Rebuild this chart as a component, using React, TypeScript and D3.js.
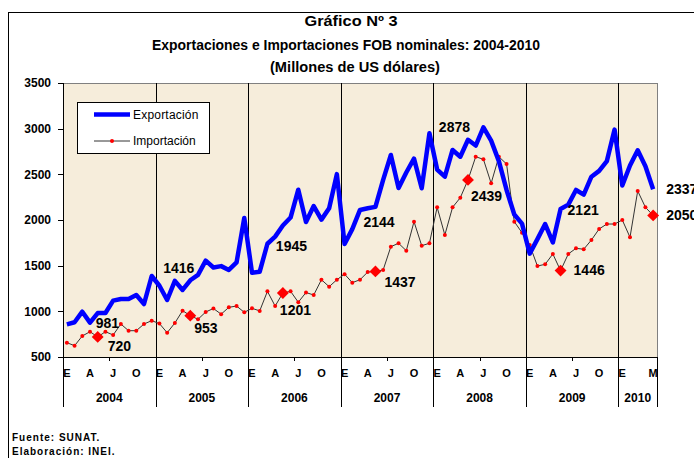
import React from "react";
import * as d3 from "d3";

// categorias: meses ene-2004 .. may-2010
const years = ["2004", "2005", "2006", "2007", "2008", "2009", "2010"];
const monthsPerYear = [12, 12, 12, 12, 12, 12, 5];
const monthLetters = ["E", "F", "M", "A", "M", "J", "J", "A", "S", "O", "N", "D"];
const labeledMonths = [0, 3, 6, 9];

// millones de US$
const exportacion = [
  858, 880, 996, 876, 981, 982, 1117, 1135, 1135, 1179, 1080, 1387,
  1280, 1124, 1334, 1234, 1340, 1400, 1555, 1480, 1495, 1453, 1536, 2022,
  1423, 1434, 1740, 1818, 1940, 2027, 2332, 1978, 2153, 2004, 2128, 2502,
  1737, 1900, 2110, 2128, 2144, 2440, 2712, 2350, 2520, 2672, 2347, 2949,
  2552, 2474, 2767, 2693, 2878, 2815, 3015, 2869, 2645, 2329, 2060, 1960,
  1632, 1790, 1956, 1754, 2121, 2168, 2329, 2278, 2474, 2538, 2645, 2990,
  2378, 2597, 2763, 2588, 2337,
];
const importacion = [
  657, 624, 730, 777, 720, 777, 741, 861, 788, 788, 861, 898,
  866, 766, 872, 1007, 953, 913, 993, 1031, 969, 1044, 1058, 989,
  1033, 1005, 1219, 1058, 1201, 1219, 1100, 1206, 1179, 1346, 1270, 1346,
  1407, 1314, 1346, 1430, 1437, 1453, 1708, 1745, 1664, 1982, 1719, 1745,
  2139, 1836, 2139, 2244, 2439, 2693, 2664, 2402, 2693, 2613, 1982, 1861,
  1726, 1496, 1515, 1628, 1446, 1628, 1690, 1680, 1781, 1902, 1956, 1956,
  2000, 1811, 2318, 2139, 2050,
];

// valores rotulados (mayo de cada año)
const exportLabels = [981, 1416, 1945, 2144, 2878, 2121, 2337];
const importLabels = [720, 953, 1201, 1437, 2439, 1446, 2050];
const labelMonth = 4;

const yTicks = [500, 1000, 1500, 2000, 2500, 3000, 3500];

// desplazamiento de los rotulos [dx, dy, anchor]
const expLabelPos: [number, number, string][] = [
  [-2, 10, "start"], [4, -12, "end"], [-7, 21, "start"], [-12, 15, "start"],
  [2, -13, "end"], [7, 1, "start"], [13, 0, "start"],
];
const impLabelPos: [number, number, string][] = [
  [10, 9, "start"], [4, 12, "start"], [-3, 17, "start"], [9, 11, "start"],
  [3, 16, "start"], [13, 0, "start"], [13, 0, "start"],
];

const W = 694, H = 458;
const left = 63, right = 657, top = 83, bottom = 357;
const font = "'Liberation Sans', Arial, sans-serif";

export default function App() {
  const n = exportacion.length;
  const x = d3.scaleBand<number>().domain(d3.range(n)).range([left, right]);
  const cx = (i: number) => (x(i) as number) + x.bandwidth() / 2;
  const y = d3.scaleLinear().domain([500, 3500]).range([bottom, top]);

  const line = d3.line<number>().x((d, i) => cx(i)).y(d => y(d));

  // inicio de cada año (indice)
  const yearStart = monthsPerYear.map((m, k) => d3.sum(monthsPerYear.slice(0, k)));
  const boundaries = yearStart.map(s => x(s) as number).concat([right]);

  const monthTicks: { i: number; t: string }[] = [];
  years.forEach((yr, k) => {
    const s = yearStart[k];
    if (monthsPerYear[k] === 12) {
      labeledMonths.forEach(m => monthTicks.push({ i: s + m, t: monthLetters[m] }));
    } else {
      monthTicks.push({ i: s, t: monthLetters[0] });
      const last = monthsPerYear[k] - 1;
      monthTicks.push({ i: s + last, t: monthLetters[last] });
    }
  });

  return (
    <div style={{ position: "absolute", left: 0, top: 0 }}>
      <svg width={W} height={H} style={{ display: "block", background: "#fff" }}>
        <rect x={8.5} y={12.5} width={W} height={H} fill="none" stroke="#000" />

        {/* titulo */}
        <g fontFamily={font} fontWeight="bold" fontSize={14.5} textAnchor="middle" fill="#000">
          <text x={351} y={26} textLength={93} lengthAdjust="spacingAndGlyphs">Gráfico Nº 3</text>
          <text x={346} y={50} textLength={388} lengthAdjust="spacingAndGlyphs">
            Exportaciones e Importaciones FOB nominales: 2004-2010
          </text>
          <text x={355} y={72} textLength={170} lengthAdjust="spacingAndGlyphs">(Millones de US dólares)</text>
        </g>

        {/* area del grafico */}
        <rect x={left} y={top} width={right - left} height={bottom - top} fill="#f6eddb" />
        <line x1={left} x2={right} y1={top + 0.5} y2={top + 0.5} stroke="#808080" />
        <line x1={right + 0.5} x2={right + 0.5} y1={top} y2={bottom} stroke="#808080" />

        {/* separadores de año */}
        {boundaries.slice(1, -1).map((b, k) => (
          <line key={"sep" + k} x1={Math.round(b) + 0.5} x2={Math.round(b) + 0.5} y1={top} y2={bottom} stroke="#000" />
        ))}
        {boundaries.map((b, k) => (
          <line key={"sepb" + k} x1={Math.round(b) + 0.5} x2={Math.round(b) + 0.5} y1={bottom} y2={407} stroke="#000" />
        ))}
        {/* marcas a mitad de año */}
        {years.map((yr, k) =>
          monthsPerYear[k] === 12 ? (
            <line key={"mid" + k} x1={Math.round(x(yearStart[k] + 6) as number) + 0.5}
              x2={Math.round(x(yearStart[k] + 6) as number) + 0.5} y1={bottom} y2={bottom + 4} stroke="#000" />
          ) : null
        )}

        {/* ejes */}
        <line x1={left + 0.5} x2={left + 0.5} y1={top} y2={bottom} stroke="#000" />
        <line x1={left - 5} x2={right} y1={bottom + 0.5} y2={bottom + 0.5} stroke="#000" />
        {yTicks.map(t => (
          <g key={t}>
            <line x1={left - 5} x2={left} y1={Math.round(y(t)) + 0.5} y2={Math.round(y(t)) + 0.5} stroke="#000" />
            <text x={51} y={y(t)} dy="0.35em" textAnchor="end" fontFamily={font} fontWeight="bold" fontSize={12}>{t}</text>
          </g>
        ))}
        {monthTicks.map(m => (
          <text key={"m" + m.i} x={cx(m.i)} y={377} textAnchor="middle" fontFamily={font} fontWeight="bold" fontSize={11}>{m.t}</text>
        ))}
        {years.map((yr, k) => (
          <text key={yr} x={(boundaries[k] + boundaries[k + 1]) / 2} y={402} textAnchor="middle"
            fontFamily={font} fontWeight="bold" fontSize={12}>{yr}</text>
        ))}

        {/* series */}
        <path d={line(importacion) as string} fill="none" stroke="#333" strokeWidth={1} />
        {importacion.map((v, i) => (
          <circle key={"p" + i} cx={cx(i)} cy={y(v)} r={2} fill="#ff0000" />
        ))}
        <path d={line(exportacion) as string} fill="none" stroke="#0000ff" strokeWidth={4.5} strokeLinejoin="round" />
        {years.map((yr, k) => {
          const i = yearStart[k] + labelMonth;
          return (
            <rect key={"d" + k} x={cx(i) - 4.2} y={y(importacion[i]) - 4.2} width={8.4} height={8.4}
              fill="#ff0000" transform={`rotate(45 ${cx(i)} ${y(importacion[i])})`} />
          );
        })}

        {/* rotulos */}
        <g fontFamily={font} fontWeight="bold" fontSize={14} fill="#000">
          {years.map((yr, k) => {
            const i = yearStart[k] + labelMonth;
            const [dx, dy, a] = expLabelPos[k];
            return (
              <text key={"el" + k} x={cx(i) + dx} y={y(exportacion[i]) + dy} dy="0.35em" textAnchor={a}>
                {exportLabels[k]}
              </text>
            );
          })}
          {years.map((yr, k) => {
            const i = yearStart[k] + labelMonth;
            const [dx, dy, a] = impLabelPos[k];
            return (
              <text key={"il" + k} x={cx(i) + dx} y={y(importacion[i]) + dy} dy="0.35em" textAnchor={a}>
                {importLabels[k]}
              </text>
            );
          })}
        </g>

        {/* leyenda */}
        <rect x={77.5} y={102.5} width={132} height={51} fill="#fff" stroke="#000" />
        <line x1={94} x2={130} y1={114.5} y2={114.5} stroke="#0000ff" strokeWidth={4.5} />
        <line x1={94} x2={130} y1={141} y2={141} stroke="#333" />
        <circle cx={112} cy={141} r={2} fill="#ff0000" />
        <text x={133} y={114.5} dy="0.35em" fontFamily={font} fontSize={12} letterSpacing={0.2}>Exportación</text>
        <text x={133} y={141} dy="0.35em" fontFamily={font} fontSize={12}>Importación</text>

        {/* fuente */}
        <g fontFamily={font} fontWeight="bold" fontSize={10} letterSpacing={1}>
          <text x={12} y={441}>Fuente: SUNAT.</text>
          <text x={12} y={455}>Elaboración: INEI.</text>
        </g>
      </svg>
    </div>
  );
}
